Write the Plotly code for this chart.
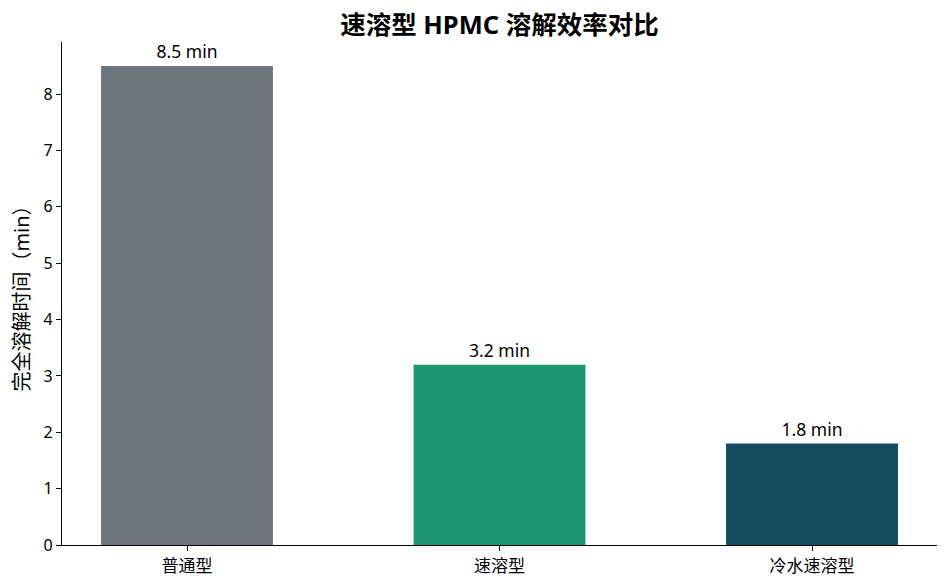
import plotly.graph_objects as go

categories = ["普通型", "速溶型", "冷水速溶型"]
times = [8.5, 3.2, 1.8]
labels = ["8.5 min", "3.2 min", "1.8 min"]
colors = ["#6C757D", "#1B9670", "#134B5F"]

font_family = "Noto Sans, Noto Sans CJK SC, sans-serif"

fig = go.Figure()
fig.add_trace(go.Bar(
    x=categories,
    y=times,
    width=0.55,
    marker=dict(color=colors, line=dict(width=0)),
    text=labels,
    textposition="outside",
    textfont=dict(size=17.5, color="black"),
    cliponaxis=False,
))

# page body has an 8px margin, so shrink the figure to fit the window
fig.update_layout(
    width=940,
    height=580,
    margin=dict(l=54, r=11, t=34, b=43),
    paper_bgcolor="white",
    plot_bgcolor="white",
    font=dict(family=font_family, color="black"),
    title=dict(text="<b>速溶型 HPMC 溶解效率对比</b>", x=0.5, xref="paper", xanchor="center",
               y=1 - 17 / 580, yref="container", yanchor="middle", font=dict(size=25.5)),
    showlegend=False,
)
fig.update_xaxes(
    range=[-0.4, 2.4],
    showline=True, linecolor="black", linewidth=1.2,
    ticks="outside", ticklen=5, tickcolor="black",
    tickfont=dict(size=17),
    showgrid=False, automargin=False,
)
fig.update_yaxes(
    range=[0, 8.925],
    dtick=1,
    showline=True, linecolor="black", linewidth=1.2,
    ticks="outside", ticklen=5, tickcolor="black",
    tickfont=dict(size=16),
    showgrid=False, zeroline=False, automargin=False,
    title=dict(text="完全溶解时间（min）", font=dict(size=20), standoff=14),
)

fig.write_html("out.html")
